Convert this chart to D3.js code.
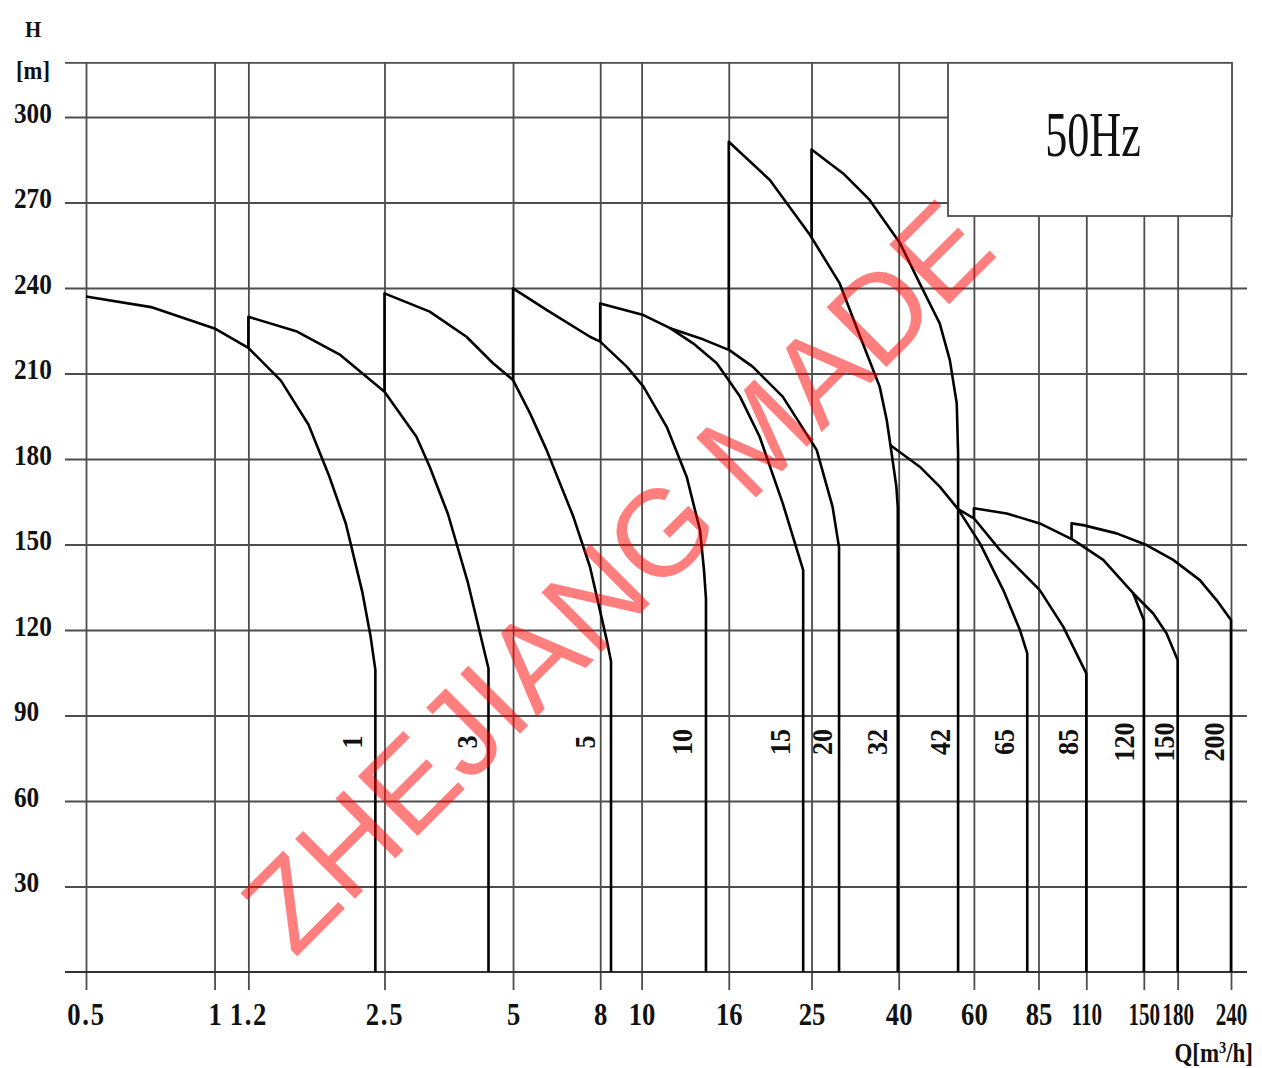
<!DOCTYPE html>
<html><head><meta charset="utf-8">
<script src="https://cdn.jsdelivr.net/npm/d3@7"></script>
<style>html,body{margin:0;padding:0;background:#fff}svg{display:block}</style>
</head><body>
<svg id="chart" width="1262" height="1068"></svg>
<script>
// ---------- data ----------
const qTicks = [0.5, 1, 1.2, 2.5, 5, 8, 10, 16, 25, 40, 60, 85, 110, 150, 180, 240];
const qTickLabels = ["0.5", "1", "1.2", "2.5", "5", "8", "10", "16", "25", "40", "60", "85", "110", "150", "180", "240"];
const hTicks = [30, 60, 90, 120, 150, 180, 210, 240, 270, 300];
const hMax = 319;
const curveNames = ["1", "3", "5", "10", "15", "20", "32", "42", "65", "85", "120", "150", "200"];
const labelQ = [2.1, 3.9, 7.37, 12.43, 21.1, 26.4, 35.6, 49.9, 70.5, 99.6, 134.6, 167.1, 218.7];

const curve1 = [[0.5,237],[0.71,233.3],[1.0,225.8],[1.2,219],[1.43,207.5],[1.66,192],[1.85,174.5],[2.03,157.3],[2.22,133.1],[2.32,117.6],[2.38,106],[2.38,0]];
const curve3 = [[1.2,219],[1.2,229.9],[1.56,224.7],[1.97,216.5],[2.5,203.6],[2.97,187.8],[3.19,177.3],[3.52,160.7],[3.92,136.6],[4.38,106.5],[4.38,0]];
const curve5 = [[2.5,203.6],[2.5,238.1],[3.19,231.7],[3.89,222.9],[4.49,213.6],[5,207.7],[5.48,196],[5.99,183.2],[6.92,159.8],[7.57,142.2],[8.3,116],[8.48,109],[8.48,0]];
const curve10 = [[5,207.7],[5,239.9],[5.99,232.3],[7.57,222.9],[8,221.2],[9.23,212.4],[10.1,205.4],[11.45,191.3],[12.75,173.8],[13.7,155.1],[14.0,141],[14.15,131],[14.15,0]];
const curve15 = [[8,221.2],[8,234.6],[10.1,230.5],[11.66,225.9],[13.2,220.6],[15,213.6],[17,201.9],[18.9,187.8],[21.4,164.5],[23.9,141],[23.9,0]];
const curve20 = [[11.66,225.9],[13.7,222.4],[16.05,218.2],[18.2,212.4],[21.4,201.9],[25.7,183.2],[28,163.3],[29,149],[29,0]];
const curve32 = [[16,218.2],[16,291.3],[19.97,277.9],[24.8,258.6],[29.1,241.6],[32.5,222.9],[36.1,205.4],[37.5,193.7],[38.5,182],[39.5,170.3],[39.8,163],[39.8,0]];
const curve42 = [[25,257.8],[25,288.6],[29.65,280.2],[34.2,270.9],[40.3,255.7],[44.8,241.6],[49.9,227.6],[52.7,214.7],[54.7,199.5],[55.1,182],[55.1,0]];
const curve65 = [[38.2,184.9],[44.8,177.3],[49.9,170.3],[55.1,162.4],[62,150.4],[70.3,134],[76.9,120],[80,111.8],[80,0]];
const curve85 = [[55.1,162.4],[60,159.2],[69,148.1],[85.6,134],[97.1,121.2],[110,104.8],[110,0]];
const curve120 = [[60,159.2],[60,162.7],[71.6,160.9],[85.6,157.4],[102.5,151.6],[120.5,144.6],[141.6,132.9],[150,123.5],[150,0]];
const curve150 = [[141.6,132.9],[157.8,125.8],[169.6,118.8],[180,109.5],[180,0]];
const curve200 = [[101.6,152],[101.6,157.4],[108.1,156.8],[129.5,153.9],[152.2,149.8],[175.7,144.6],[202.9,137.5],[222,130.5],[240,123.5],[240,0]];
const curves = [curve1, curve3, curve5, curve10, curve15, curve20, curve32, curve42, curve65, curve85, curve120, curve150, curve200];

// ---------- layout ----------
const svg = d3.select("#chart");
const left = 65, right = 1247, tickBottom = 990;
const x = d3.scaleLog().domain([0.5, 240]).range([86, 1231]);
const y = d3.scaleLinear().domain([0, 300]).range([972, 117]);
const box = {x0: 948, y0: y(hMax), x1: 1232, y1: 216};
const serif = "'Liberation Serif','Times New Roman',serif";
const gridColor = "#4d4d4d";

// horizontal grid (y axis)
const yAxis = d3.axisLeft(y).tickValues(hTicks).tickSize(-(right - left)).tickFormat(d3.format("d"));
const gy = svg.append("g").attr("transform", `translate(${left},0)`).call(yAxis);
gy.select(".domain").remove();
gy.selectAll(".tick line")
  .attr("stroke", gridColor).attr("stroke-width", 1.8)
  .attr("x2", d => y(d) < box.y1 ? box.x0 - left : right - left);
gy.selectAll(".tick text")
  .attr("x", null).attr("dy", null).attr("text-anchor", "start")
  .attr("transform", "translate(-51,5) scale(0.87,1)")
  .attr("font-family", serif).attr("font-weight", "bold").attr("font-size", 29).attr("fill", "#111");

// vertical grid (x axis)
const xAxis = d3.axisBottom(x).tickValues(qTicks).tickSize(-(tickBottom - y(hMax)))
  .tickFormat((d, i) => qTickLabels[i]);
const gx = svg.append("g").attr("transform", `translate(0,${tickBottom})`).call(xAxis);
gx.select(".domain").remove();
gx.selectAll(".tick line").attr("stroke", gridColor).attr("stroke-width", 1.8);
gx.selectAll(".tick text")
  .attr("y", 35).attr("dy", null)
  .attr("letter-spacing", (d, i) => qTickLabels[i].includes(".") ? 2 : 0)
  .attr("transform", (d, i) => `scale(${qTickLabels[i].replace(".", "").length >= 3 ? 0.68 : 0.86},1)`)
  .attr("font-family", serif).attr("font-weight", "bold").attr("font-size", 31).attr("fill", "#111");

// frame lines
svg.append("line").attr("x1", left).attr("x2", box.x1).attr("y1", y(hMax)).attr("y2", y(hMax))
  .attr("stroke", gridColor).attr("stroke-width", 1.8);
svg.append("line").attr("x1", left).attr("x2", right).attr("y1", y(0)).attr("y2", y(0))
  .attr("stroke", "#333").attr("stroke-width", 2);

// 50Hz box
svg.append("rect").attr("x", box.x0).attr("y", box.y0).attr("width", box.x1 - box.x0).attr("height", box.y1 - box.y0)
  .attr("fill", "#fff").attr("stroke", gridColor).attr("stroke-width", 1.8);
svg.append("text").attr("transform", `translate(${(box.x0 + box.x1) / 2 + 3},156) scale(0.69,1)`)
  .attr("text-anchor", "middle").attr("font-family", serif).attr("font-size", 64).attr("fill", "#111")
  .text("50Hz");

// curves
const line = d3.line().x(d => x(d[0])).y(d => y(d[1]));
svg.append("g").selectAll("path").data(curves).join("path")
  .attr("d", line).attr("fill", "none").attr("stroke", "#000").attr("stroke-width", 2.6)
  .attr("stroke-linejoin", "round");

// curve labels
svg.append("g").selectAll("text").data(curveNames).join("text")
  .attr("transform", (d, i) => `translate(${x(labelQ[i])},742) rotate(-90) scale(0.87,1)`)
  .attr("text-anchor", "middle").attr("dy", "0.34em")
  .attr("font-family", serif).attr("font-weight", "bold").attr("font-size", 30).attr("fill", "#111")
  .text(d => d);

// axis titles
svg.append("text").attr("transform", "translate(33,37) scale(0.87,1)").attr("text-anchor", "middle")
  .attr("font-family", serif).attr("font-weight", "bold").attr("font-size", 24).attr("fill", "#111").text("H");
svg.append("text").attr("transform", "translate(33,79) scale(0.87,1)").attr("text-anchor", "middle")
  .attr("font-family", serif).attr("font-weight", "bold").attr("font-size", 26).attr("fill", "#111").text("[m]");
const qt = svg.append("text").attr("transform", "translate(1253,1062) scale(0.85,1)").attr("text-anchor", "end")
  .attr("font-family", serif).attr("font-weight", "bold").attr("font-size", 27).attr("fill", "#111");
qt.append("tspan").text("Q[m");
qt.append("tspan").attr("baseline-shift", "super").attr("font-size", 17).text("3");
qt.append("tspan").text("/h]");

// watermark
svg.append("text").attr("transform", "translate(616,575) rotate(-45)")
  .attr("text-anchor", "middle").attr("dy", "0.36em")
  .attr("font-family", "'Liberation Sans',Arial,sans-serif").attr("font-size", 123)
  .attr("fill", "#ff0000").attr("fill-opacity", 0.5)
  .text("ZHEJIANG MADE");
</script>
</body></html>
